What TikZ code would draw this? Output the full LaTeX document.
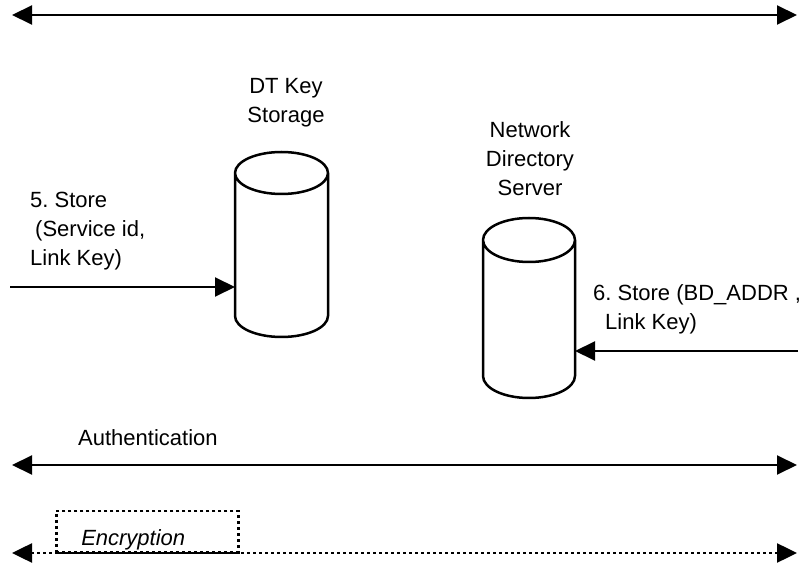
\documentclass[tikz,border=0pt]{standalone}
\usepackage{fontspec}
\setmainfont{Liberation Sans}
\frenchspacing
\usetikzlibrary{arrows.meta}

\tikzset{
  tip/.style={-{Triangle[length=20pt,width=19pt]}},
  bothtip/.style={{Triangle[length=20pt,width=19pt]}-{Triangle[length=20pt,width=19pt]}},
  msg/.style={line width=2pt},
  dots/.style={line width=2.5pt, dash pattern=on 3pt off 3pt},
  body/.style={inner sep=0pt, outer sep=0pt},
  drum/.style={line width=2.5pt, line join=round},
  lbl/.style={font=\fontsize{22}{29}\selectfont, inner sep=0pt}
}

\begin{document}
\begin{tikzpicture}[x=1pt,y=-1pt]
  \useasboundingbox (0,0) rectangle (804,569);

  % storages
  \node[body, minimum width=93pt, minimum height=185pt] (dtkey) at (281.5,244.5) {};
  \node[body, minimum width=92pt, minimum height=180pt] (nds) at (529,308) {};
  \draw[drum] ([yshift=-21pt]dtkey.north west) -- ([yshift=21pt]dtkey.south west)
    arc[start angle=180, end angle=360, x radius=46.5pt, y radius=21pt]
    -- ([yshift=-21pt]dtkey.north east)
    arc[start angle=0, end angle=180, x radius=46.5pt, y radius=21pt]
    arc[start angle=180, end angle=360, x radius=46.5pt, y radius=21pt];
  \draw[drum] ([yshift=-22pt]nds.north west) -- ([yshift=22pt]nds.south west)
    arc[start angle=180, end angle=360, x radius=46pt, y radius=22pt]
    -- ([yshift=-22pt]nds.north east)
    arc[start angle=0, end angle=180, x radius=46pt, y radius=22pt]
    arc[start angle=180, end angle=360, x radius=46pt, y radius=22pt];
  \node[lbl, align=center, anchor=base] (dtlbl) at (286,123) {DT Key\\Storage};
  \node[lbl, align=center, anchor=base] (ndslbl) at (530,196) {Network\\Directory\\Server};

  % store messages
  \coordinate (src5) at (10,287);
  \coordinate (src6) at (798,351);
  \draw[msg, tip] (src5) -- (src5 -| dtkey.west);
  \draw[msg, tip] (src6) -- (src6 -| nds.east);
  \node[lbl, align=left, anchor=base west] (st5) at (30,266) {5. Store\\\hspace{5pt}(Service id,\\Link Key)};
  \node[lbl, align=left, anchor=base west] (st6) at (593,330) {6. Store (BD\_ADDR ,\\\hspace{12pt}Link Key)};

  % top
  \coordinate (topL) at (12,15);
  \coordinate (topR) at (797,15);
  \draw[msg, bothtip] (topL) -- (topR);

  % authentication
  \coordinate (authL) at (12,465);
  \coordinate (authR) at (797,465);
  \node[lbl, anchor=base west] (auth) at (78,446) {Authentication};
  \draw[msg, bothtip] (authL) -- (authR);

  % encryption
  \coordinate (encL) at (12,553);
  \coordinate (encR) at (797,553);
  \draw[dots, bothtip] (encL) -- (encR);
  \node[lbl, dots, draw, anchor=south west, minimum height=41pt, text width=132pt,
    inner xsep=25pt, text height=28pt, text depth=0pt, font=\fontsize{22}{29}\selectfont\itshape]
    (enc) at (55,553) {Encryption};
  \draw[msg, line width=2.5pt] (enc.south west) -- (enc.south east);
\end{tikzpicture}
\end{document}
